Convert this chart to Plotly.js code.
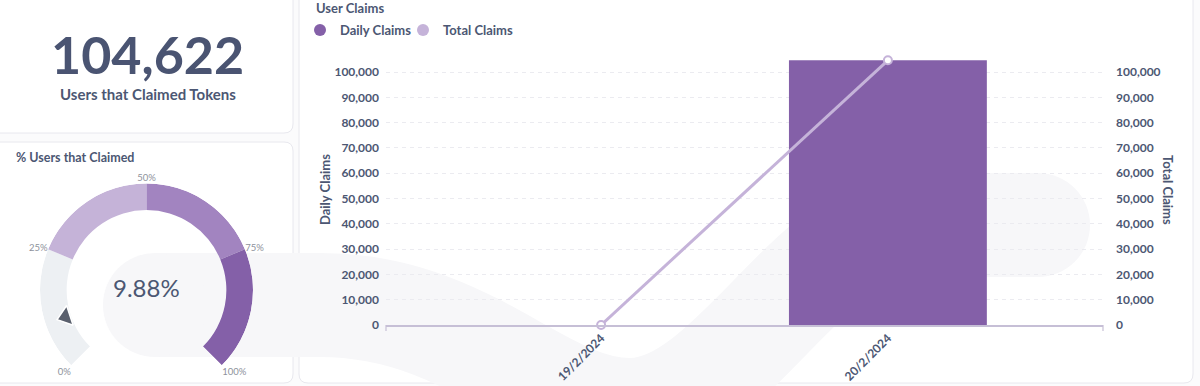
<!DOCTYPE html>
<html>
<head>
<meta charset="utf-8">
<script src="https://cdn.plot.ly/plotly-3.0.1.min.js"></script>
<style>
  html, body { margin: 0; padding: 0; background: #fbfbfc; }
  #chart { width: 1200px; height: 386px; }
</style>
</head>
<body>
<div id="chart"></div>
<script>
// ---------- data ----------
const totalUsersClaimed = 104622;
const claimedPct = 9.88;

const dates = ['19/2/2024', '20/2/2024'];
const dailyClaims = [0, 104622];
const totalClaims = [0, 104622];
const claimTicks = [0, 10000, 20000, 30000, 40000, 50000, 60000, 70000, 80000, 90000, 100000];

const gaugeStops = [0, 25, 50, 75, 100];
const gaugeLabels = ['0%', '25%', '50%', '75%', '100%'];
const gaugeColors = ['#edf0f3', '#c5b3d8', '#a284c0', '#8460a8'];

// ---------- helpers ----------
const W = 1200, H = 386;
const fx = x => x / W;
const fy = y => 1 - y / H;
const P = (x, y) => fx(x).toFixed(5) + ',' + fy(y).toFixed(5);

function roundRect(x0, y0, x1, y1, r) {
  return 'M' + P(x0 + r, y0) + ' L' + P(x1 - r, y0) + ' Q' + P(x1, y0) + ' ' + P(x1, y0 + r) +
    ' L' + P(x1, y1 - r) + ' Q' + P(x1, y1) + ' ' + P(x1 - r, y1) +
    ' L' + P(x0 + r, y1) + ' Q' + P(x0, y1) + ' ' + P(x0, y1 - r) +
    ' L' + P(x0, y0 + r) + ' Q' + P(x0, y0) + ' ' + P(x0 + r, y0) + ' Z';
}

const TXT = '#4c5773';
const BOLD = { family: 'Lato, "Open Sans", sans-serif', weight: 'bold', size: 12, color: TXT };
const WM = '#f7f7f9';

// gauge geometry: 270 degree sweep starting at 225deg (lower-left), clockwise
const sweep = 270, start = 225;
const pctToTheta = p => start - p * sweep / 100;
const segTheta = [], segWidth = [];
for (let i = 0; i < gaugeStops.length - 1; i++) {
  segTheta.push(pctToTheta((gaugeStops[i] + gaugeStops[i + 1]) / 2));
  segWidth.push((gaugeStops[i + 1] - gaugeStops[i]) * sweep / 100);
}
const innerR = 0.75;

// ---------- traces ----------
const traces = [
  {
    type: 'bar', x: dates, y: dailyClaims, name: 'Daily Claims',
    marker: { color: '#8460a8' }, width: 0.69, showlegend: false,
    xaxis: 'x', yaxis: 'y', hoverinfo: 'skip'
  },
  {
    type: 'scatter', mode: 'lines+markers', x: dates, y: totalClaims, name: 'Total Claims',
    line: { color: '#c5b3d9', width: 3 },
    marker: { symbol: 'circle', size: 8, color: '#ffffff', line: { color: '#c5b3d9', width: 2 } },
    showlegend: false, xaxis: 'x', yaxis: 'y2', hoverinfo: 'skip', cliponaxis: false
  },
  // legend entries (circle swatches like the original dashboard)
  {
    type: 'scatter', mode: 'markers', x: [null], y: [null], name: 'Daily Claims',
    marker: { color: '#8460a8', size: 12 }, xaxis: 'x', yaxis: 'y', hoverinfo: 'skip'
  },
  {
    type: 'scatter', mode: 'markers', x: [null], y: [null], name: 'Total Claims',
    marker: { color: '#c5b3d9', size: 12 }, xaxis: 'x', yaxis: 'y', hoverinfo: 'skip'
  },
  {
    type: 'scatter', mode: 'lines', x: [null], y: [null], name: ' ',
    line: { width: 0, color: 'rgba(0,0,0,0)' }, xaxis: 'x', yaxis: 'y', hoverinfo: 'skip'
  },
  // gauge ring
  {
    type: 'barpolar', subplot: 'polar', theta: segTheta, width: segWidth,
    r: segTheta.map(() => 1 - innerR), base: segTheta.map(() => innerR),
    marker: { color: gaugeColors, line: { width: 0 } }, showlegend: false, hoverinfo: 'skip'
  },
  // gauge needle
  {
    type: 'scatterpolar', subplot: 'polar', mode: 'markers',
    r: [0.8], theta: [pctToTheta(claimedPct)],
    marker: { symbol: 'triangle-left', size: 18, color: '#5a606d', angle: -(pctToTheta(claimedPct) - 180), line: { color: '#ffffff', width: 1.5 } },
    showlegend: false, hoverinfo: 'skip'
  }
];

// ---------- decorations ----------
const shapes = [
  // cards
  { type: 'path', xref: 'paper', yref: 'paper', layer: 'below', path: roundRect(-12, -12, 293, 133, 9), fillcolor: '#ffffff', line: { color: '#e8e8ee', width: 1 } },
  { type: 'path', xref: 'paper', yref: 'paper', layer: 'below', path: roundRect(-12, 142, 293, 383, 9), fillcolor: '#ffffff', line: { color: '#e8e8ee', width: 1 } },
  { type: 'path', xref: 'paper', yref: 'paper', layer: 'below', path: roundRect(299, -12, 1193, 383, 9), fillcolor: '#ffffff', line: { color: '#e8e8ee', width: 1 } },
  // faint background watermark
  {
    type: 'path', xref: 'paper', yref: 'paper', layer: 'below',
    path: 'M' + P(155, 305) + ' L' + P(320, 305) + ' C' + P(470, 305) + ' ' + P(540, 410) + ' ' + P(630, 410) +
      ' C' + P(730, 410) + ' ' + P(810, 225) + ' ' + P(910, 225) + ' L' + P(1038, 225),
    line: { color: WM, width: 104 }, fillcolor: 'rgba(0,0,0,0)'
  },
  { type: 'circle', xref: 'paper', yref: 'paper', layer: 'below', x0: fx(103), x1: fx(207), y0: fy(357), y1: fy(253), fillcolor: WM, line: { width: 0 } },
  { type: 'circle', xref: 'paper', yref: 'paper', layer: 'below', x0: fx(986), x1: fx(1090), y0: fy(277), y1: fy(173), fillcolor: WM, line: { width: 0 } },
  // small end ticks on the x axis line
  { type: 'line', xref: 'x domain', yref: 'paper', x0: 0, x1: 0, y0: fy(325), y1: fy(331), line: { color: '#c6bfd6', width: 1.2 } },
  { type: 'line', xref: 'x domain', yref: 'paper', x0: 1, x1: 1, y0: fy(325), y1: fy(331), line: { color: '#c6bfd6', width: 1.2 } }
];

const annotations = [
  { text: totalUsersClaimed.toLocaleString('en-US'), x: fx(147.5), y: fy(54), xref: 'paper', yref: 'paper', showarrow: false, xanchor: 'center', yanchor: 'middle',
    font: { family: 'Lato, sans-serif', weight: 'bold', size: 52, color: '#4a5472' } },
  { text: 'Users that Claimed Tokens', x: fx(147.5), y: fy(94), xref: 'paper', yref: 'paper', showarrow: false, xanchor: 'center', yanchor: 'middle',
    font: { family: 'Lato, sans-serif', weight: 'bold', size: 15, color: TXT } },
  { text: '% Users that Claimed', x: fx(14), y: fy(157), xref: 'paper', yref: 'paper', showarrow: false, xanchor: 'left', yanchor: 'middle',
    font: Object.assign({}, BOLD, { size: 12.5 }) },
  { text: claimedPct.toFixed(2) + '%', x: fx(146.5), y: fy(287), xref: 'paper', yref: 'paper', showarrow: false, xanchor: 'center', yanchor: 'middle',
    font: { family: 'Lato, sans-serif', size: 24, color: TXT } },
  { text: 'User Claims', x: fx(314), y: fy(8), xref: 'paper', yref: 'paper', showarrow: false, xanchor: 'left', yanchor: 'middle',
    font: Object.assign({}, BOLD, { size: 13 }) },
  { text: 'Daily Claims', x: fx(325), y: fy(190), xref: 'paper', yref: 'paper', showarrow: false, xanchor: 'center', yanchor: 'middle', textangle: -90,
    font: Object.assign({}, BOLD, { size: 13 }) },
  { text: 'Total Claims', x: fx(1168), y: fy(190), xref: 'paper', yref: 'paper', showarrow: false, xanchor: 'center', yanchor: 'middle', textangle: 90,
    font: Object.assign({}, BOLD, { size: 13 }) }
];

const yRange = [0, 108700];

const layout = {
  width: W, height: H,
  margin: { l: 0, r: 0, t: 0, b: 0, pad: 0 },
  paper_bgcolor: '#fbfbfc',
  plot_bgcolor: 'rgba(0,0,0,0)',
  font: { family: 'Lato, sans-serif', color: TXT },
  showlegend: true,
  legend: {
    orientation: 'h', x: fx(300), y: fy(30), xanchor: 'left', yanchor: 'middle',
    font: Object.assign({}, BOLD, { size: 13 }), bgcolor: 'rgba(0,0,0,0)',
    itemwidth: 30, entrywidth: 58, entrywidthmode: 'pixels', itemclick: false
  },
  xaxis: {
    domain: [fx(386), fx(1103)], type: 'category', range: [-0.75, 1.75],
    tickangle: -45, tickfont: BOLD, showgrid: false, zeroline: false,
    showline: true, linecolor: '#c6bfd6', linewidth: 1.5, ticks: '', fixedrange: true, anchor: 'y'
  },
  yaxis: {
    domain: [fy(325), fy(50)], range: yRange, tickvals: claimTicks, tickformat: ',d',
    tickfont: BOLD, showgrid: true, gridcolor: '#ebebf0', griddash: '4px,4px', gridwidth: 1,
    zeroline: false, showline: false, ticks: '', ticklabelstandoff: 6, fixedrange: true, anchor: 'x'
  },
  yaxis2: {
    overlaying: 'y', side: 'right', range: yRange, tickvals: claimTicks, tickformat: ',d',
    tickfont: BOLD, showgrid: false, zeroline: false, showline: false, ticks: '', ticklabelstandoff: 12, fixedrange: true, anchor: 'x'
  },
  polar: {
    domain: { x: [fx(40), fx(253)], y: [fy(365.3), fy(183.5)] },
    sector: [-45, 225], hole: 0, bgcolor: 'rgba(0,0,0,0)',
    radialaxis: { visible: false, range: [0, 1] },
    angularaxis: {
      rotation: 0, direction: 'counterclockwise', showline: false, showgrid: false, ticks: '',
      tickmode: 'array', tickvals: gaugeStops.map(pctToTheta), ticktext: gaugeLabels,
      tickfont: { family: 'Lato, sans-serif', size: 9.5, color: '#8e929c' }
    }
  },
  shapes: shapes,
  annotations: annotations,
  hovermode: false
};

Plotly.newPlot('chart', traces, layout, { staticPlot: true, displayModeBar: false });
</script>
</body>
</html>
